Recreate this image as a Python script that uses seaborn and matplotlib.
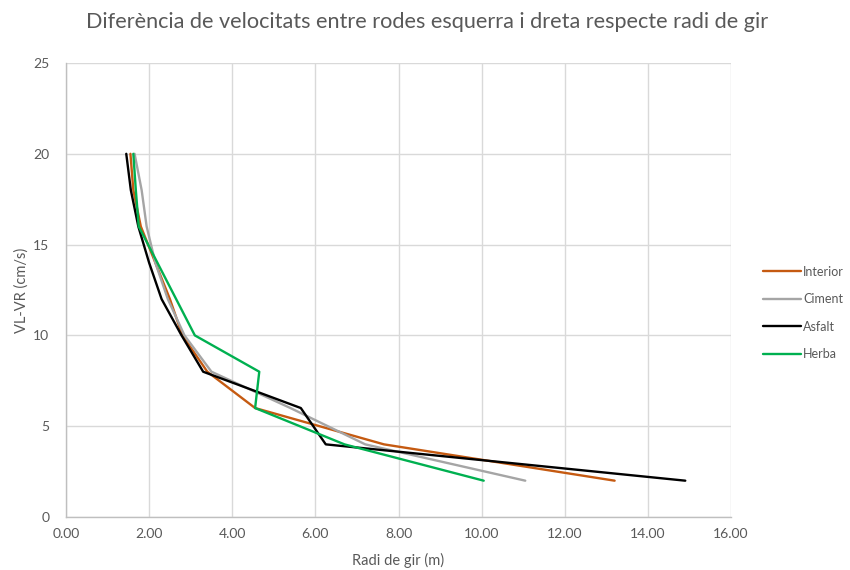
import matplotlib
matplotlib.use("Agg")
import matplotlib.pyplot as plt
import seaborn as sns
import pandas as pd
from matplotlib.ticker import FormatStrFormatter

# ---- data ----
series_names = ["Interior", "Ciment", "Asfalt", "Herba"]
vel_diff = [20, 18, 16, 14, 12, 10, 8, 6, 4, 2]
interior_radius = [1.55, 1.62, 1.80, 2.15, 2.50, 2.80, 3.40, 4.55, 7.65, 13.20]
ciment_radius = [1.65, 1.82, 1.94, 2.15, 2.45, 2.85, 3.50, 5.40, 7.20, 11.05]
asfalt_radius = [1.45, 1.56, 1.74, 2.00, 2.30, 2.78, 3.30, 5.65, 6.25, 14.90]
herba_radius = [1.62, 1.68, 1.75, 2.20, 2.65, 3.10, 4.65, 4.55, 6.70, 10.05]
x_ticks = [0, 2, 4, 6, 8, 10, 12, 14, 16]
y_ticks = [0, 5, 10, 15, 20, 25]

palette = {"Interior": "#C55A11", "Ciment": "#A5A5A5",
           "Asfalt": "#000000", "Herba": "#00B050"}

radii = [interior_radius, ciment_radius, asfalt_radius, herba_radius]
rows = []
for name, rr in zip(series_names, radii):
    for i, (r, v) in enumerate(zip(rr, vel_diff)):
        rows.append({"serie": name, "radi": r, "vel": v, "ord": i})
df = pd.DataFrame(rows)

sns.set_theme(style="white")
plt.rcParams["font.family"] = ["Lato", "DejaVu Sans"]

fig = plt.figure(figsize=(8.5, 5.7), dpi=100)
ax = fig.add_axes([66 / 850, 1 - 517 / 570, (731 - 66) / 850, (517 - 63) / 570])

sns.lineplot(data=df, x="radi", y="vel", hue="serie", hue_order=series_names,
             palette=palette, sort=False, estimator=None, units="serie",
             linewidth=1.7, ax=ax)

ax.set_xlim(0, 16)
ax.set_ylim(0, 25)
ax.set_xticks(x_ticks)
ax.set_yticks(y_ticks)
ax.xaxis.set_major_formatter(FormatStrFormatter("%.2f"))
ax.grid(True, color="#D9D9D9", linewidth=1.0)
ax.set_axisbelow(True)
for s in ["top", "right"]:
    ax.spines[s].set_visible(False)
for s in ["left", "bottom"]:
    ax.spines[s].set_color("#BFBFBF")
    ax.spines[s].set_linewidth(1.0)
ax.tick_params(axis="both", colors="#595959", labelsize=10, length=4,
               width=1, color="#BFBFBF", direction="out", pad=8)
ax.tick_params(axis="x", length=0)

ax.set_xlabel("Radi de gir (m)", color="#595959", fontsize=10.5, labelpad=9)
ax.yaxis.set_label_coords(-(66 - 29) / 665, 0.5)
ax.set_ylabel("VL-VR (cm/s)", color="#595959", fontsize=10.5)

fig.text(427 / 850, 1 - 22 / 570,
         "Diferència de velocitats entre rodes esquerra i dreta respecte radi de gir",
         ha="center", va="center", fontsize=15.6, color="#595959")

handles, labels = ax.get_legend_handles_labels()
ax.legend(handles, labels, loc="center left", bbox_to_anchor=(752 / 850, 1 - 313 / 570),
          bbox_transform=fig.transFigure, frameon=False, fontsize=9,
          handlelength=3.0, handletextpad=0.2, labelspacing=1.25,
          labelcolor="#595959")

fig.savefig("out.png", dpi=100)
